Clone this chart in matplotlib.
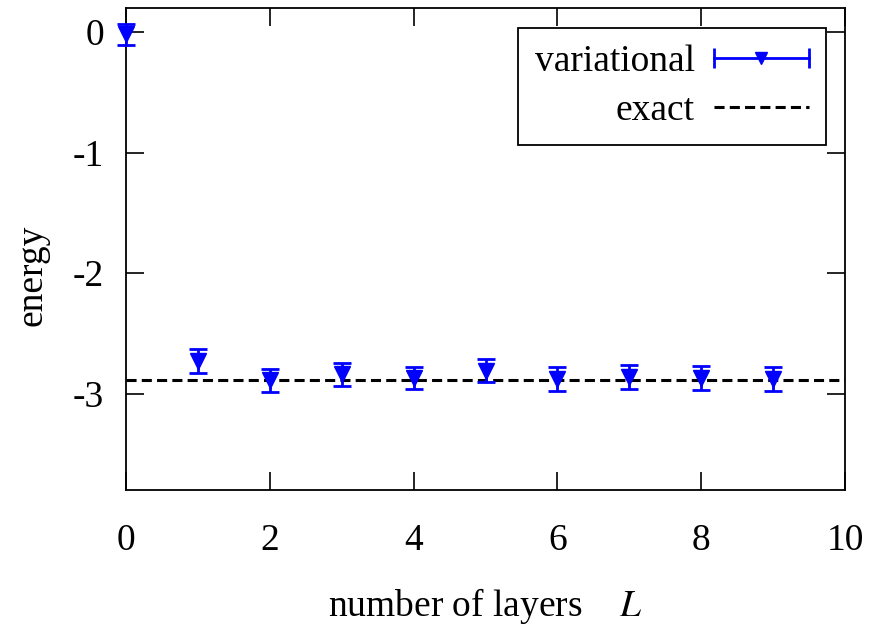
import matplotlib
matplotlib.use("Agg")
import matplotlib.pyplot as plt
from matplotlib.lines import Line2D
from matplotlib.legend_handler import HandlerLine2D, HandlerTuple

plt.rcParams['font.family'] = ['Liberation Serif', 'DejaVu Serif']
plt.rcParams['mathtext.fontset'] = 'stix'
plt.rcParams['axes.unicode_minus'] = False

# data
layers = [0, 1, 2, 3, 4, 5, 6, 7, 8, 9]
energy = [-0.02, -2.73, -2.89, -2.84, -2.87, -2.81, -2.88, -2.866, -2.873, -2.88]
energy_err = [0.09, 0.10, 0.095, 0.098, 0.094, 0.094, 0.10, 0.10, 0.10, 0.10]
exact_energy = -2.89

blue = '#0000ff'

fig = plt.figure(figsize=(8.74, 6.29), dpi=100)
ax = fig.add_axes([0.1442, 0.221, 0.8226, 0.7663])

ax.axhline(exact_energy, color='black', lw=2.2, dashes=(3.3, 1.7), zorder=1)
ax.errorbar(layers, energy, yerr=energy_err, fmt='v', color=blue, ms=11,
            elinewidth=2.0, capsize=6.5, capthick=2.0, clip_on=False, zorder=3)

ax.set_xlim(0, 10)
ax.set_ylim(-3.8, 0.2)
ax.set_xticks([0, 2, 4, 6, 8, 10])
ax.set_yticks([0, -1, -2, -3])
ax.tick_params(direction='in', length=13, width=1.2, labelsize=27,
               top=True, right=True)
ax.tick_params(axis='x', pad=24)
ax.tick_params(axis='y', pad=16)
for s in ax.spines.values():
    s.set_linewidth(1.3)

ax.set_ylabel('energy', fontsize=27)
ax.yaxis.set_label_coords(-0.106, 0.446)
ax.set_xlabel('number of layers    $L$', fontsize=27)
ax.xaxis.set_label_coords(0.5, -0.2)

# gnuplot style legend key: line with caps and a triangle in the middle
cap_line = Line2D([], [], color=blue, lw=2.0, marker='|', ms=14, mew=2.0)
tri = Line2D([], [], color=blue, ls='none', marker='v', ms=9)
exact_key = Line2D([], [], color='black', lw=2.2, dashes=(3.3, 1.7))
leg = ax.legend([(cap_line, tri), exact_key], ['variational', 'exact'],
                handler_map={cap_line: HandlerLine2D(numpoints=2, marker_pad=0),
                             tri: HandlerLine2D(numpoints=1),
                             tuple: HandlerTuple(ndivide=1, pad=0)},
                loc='upper right', bbox_to_anchor=(0.9736, 0.9585),
                borderaxespad=0, markerfirst=False,
                fontsize=27, handlelength=2.55, handletextpad=0.5,
                labelspacing=0.38, borderpad=0.45, fancybox=False,
                framealpha=1, edgecolor='black')
leg.get_frame().set_linewidth(1.3)

fig.savefig('out.png', dpi=100)
